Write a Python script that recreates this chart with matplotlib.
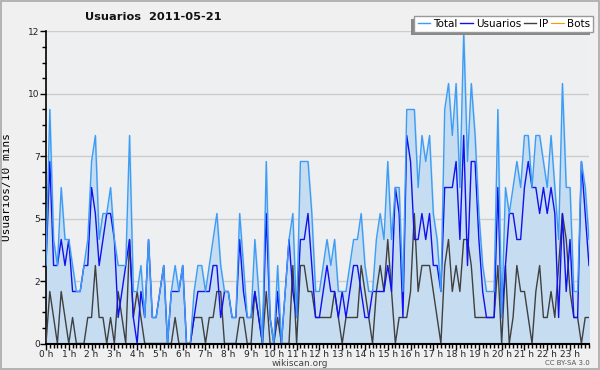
import numpy as np
import matplotlib
matplotlib.use("Agg")
import matplotlib.pyplot as plt
from matplotlib.ticker import FixedLocator, MultipleLocator

# 10-minute slots over the day (144 points)
total = [3, 9, 4, 3, 6, 4, 4, 3, 2, 2, 3, 4,
         7, 8, 4, 5, 5, 6, 4, 3, 3, 3, 8, 2,
         2, 3, 1, 4, 1, 1, 2, 3, 0, 2, 3, 2,
         3, 0, 0, 2, 3, 3, 2, 3, 4, 5, 3, 2,
         2, 1, 1, 5, 3, 1, 1, 4, 2, 0, 7, 1,
         0, 3, 0, 2, 4, 5, 1, 7, 7, 7, 5, 2,
         2, 3, 4, 3, 4, 2, 2, 2, 3, 4, 4, 5,
         3, 2, 2, 4, 5, 4, 7, 4, 6, 6, 2, 9,
         9, 9, 6, 8, 7, 8, 5, 4, 2, 9, 10, 8,
         10, 6, 12, 7, 10, 8, 5, 3, 2, 2, 2, 9,
         1, 6, 5, 6, 7, 6, 8, 8, 6, 8, 8, 7,
         6, 8, 6, 4, 10, 6, 6, 2, 2, 7, 6, 4]
usuarios = [3, 7, 3, 3, 4, 3, 4, 2, 2, 2, 3, 3,
            6, 5, 3, 4, 5, 5, 4, 1, 2, 3, 4, 1,
            0, 2, 1, 4, 1, 1, 2, 3, 0, 2, 2, 2,
            3, 0, 0, 1, 2, 2, 2, 2, 3, 3, 1, 2,
            2, 1, 1, 4, 2, 1, 1, 2, 1, 0, 5, 1,
            0, 2, 0, 2, 4, 2, 1, 4, 4, 5, 3, 1,
            1, 2, 3, 2, 2, 1, 2, 1, 2, 3, 3, 2,
            1, 1, 2, 2, 2, 2, 3, 2, 6, 5, 1, 8,
            7, 4, 4, 5, 4, 5, 3, 3, 2, 6, 6, 6,
            7, 4, 8, 3, 7, 7, 4, 2, 1, 1, 1, 6,
            1, 3, 5, 5, 4, 4, 6, 7, 6, 6, 5, 6,
            5, 6, 5, 1, 5, 2, 4, 1, 1, 7, 5, 3]
ip = [0, 2, 1, 0, 2, 1, 0, 1, 0, 0, 0, 1,
      1, 3, 1, 1, 0, 1, 0, 2, 1, 0, 4, 1,
      2, 1, 0, 0, 0, 0, 0, 0, 0, 0, 1, 0,
      0, 0, 0, 1, 1, 1, 0, 1, 1, 2, 2, 0,
      0, 0, 0, 1, 1, 0, 0, 2, 1, 0, 2, 0,
      0, 1, 0, 0, 0, 3, 0, 3, 3, 2, 2, 1,
      1, 1, 1, 1, 2, 1, 0, 1, 1, 1, 1, 3,
      2, 1, 0, 2, 3, 2, 4, 2, 0, 1, 1, 1,
      2, 5, 2, 3, 3, 3, 2, 1, 0, 3, 4, 2,
      3, 2, 4, 4, 3, 1, 1, 1, 1, 1, 1, 3,
      0, 3, 0, 1, 3, 2, 2, 1, 0, 2, 3, 1,
      1, 2, 1, 3, 5, 4, 2, 1, 1, 0, 1, 1]
bots = [0] * 144

hour_labels = [f"{h} h" for h in range(24)]
ytick_vals = [0, 2.4, 4.8, 7.2, 9.6, 12]

x = np.arange(len(total))

fig = plt.figure(figsize=(6, 3.7), dpi=100, facecolor="#f0f0f0")
ax = fig.add_axes([46 / 600, 1 - 343.5 / 370, 543 / 600, 312 / 370])
ax.set_facecolor("#eeeff1")

# frame round the whole picture
fig.patches.append(plt.Rectangle((0.001, 0.002), 0.997, 0.995, transform=fig.transFigure,
                                 fill=False, edgecolor="#a8a8a8", linewidth=1.2))

ax.fill_between(x, total, 0, color="#c6dcf0", zorder=1)
ax.plot(x, bots, color="#ff9900", linewidth=0.8, label="Bots", zorder=0.5)
ax.plot(x, ip, color="#404040", linewidth=1.0, label="IP", zorder=3)
ax.plot(x, usuarios, color="#1010f0", linewidth=1.0, label="Usuarios", zorder=4)
ax.plot(x, total, color="#3d9df5", linewidth=1.0, label="Total", zorder=5)

ax.set_xlim(0, 143)
ax.set_ylim(0, 12)

ax.yaxis.set_major_locator(FixedLocator(ytick_vals))
ax.set_yticklabels([str(int(round(v))) for v in ytick_vals])
ax.yaxis.set_minor_locator(MultipleLocator(0.6))
ax.xaxis.set_major_locator(FixedLocator(np.arange(0, 144, 6)))
ax.set_xticklabels(hour_labels)
ax.xaxis.set_minor_locator(MultipleLocator(1))

ax.tick_params(axis="both", which="major", length=4, width=1, labelsize=6.5,
               color="black", labelcolor="#222222", pad=0.5)
ax.tick_params(axis="both", which="minor", length=3, width=1, color="black")

ax.grid(axis="y", which="major", color="#cccccc", linewidth=1, zorder=0)
ax.set_axisbelow(True)

for side in ["top", "right"]:
    ax.spines[side].set_visible(False)
ax.spines["left"].set_linewidth(1.2)
ax.spines["bottom"].set_linewidth(1.5)
ax.spines["bottom"].set_zorder(6)

ax.set_ylabel("Usuarios/10 mins", family="DejaVu Sans Mono", fontsize=8, labelpad=8)
ax.yaxis.set_label_coords(-0.062, 0.5)

fig.text(85 / 600, 1 - 17 / 370, "Usuarios  2011-05-21", fontsize=8.2, fontweight="bold",
         ha="left", va="center", color="#111111")

handles, labels = ax.get_legend_handles_labels()
order = [3, 2, 1, 0]
leg = fig.legend([handles[i] for i in order], [labels[i] for i in order],
                 loc="upper right", bbox_to_anchor=(593 / 600, 1 - 16 / 370),
                 ncol=4, fontsize=7.5, frameon=True, fancybox=False, shadow=False,
                 framealpha=1, facecolor="white",
                 handlelength=1.2, handletextpad=0.3, columnspacing=0.25,
                 borderpad=0.3, borderaxespad=0)
leg.get_frame().set_edgecolor("#999999")
leg.get_frame().set_linewidth(1)
leg.set_zorder(10)

# shadow of the legend box, offset down-left
fig.canvas.draw()
bb = leg.get_window_extent().transformed(fig.transFigure.inverted())
fig.patches.append(plt.Rectangle((bb.x0 - 3 / 600, bb.y0 - 3 / 370), bb.width, bb.height,
                                 transform=fig.transFigure, facecolor="#888888",
                                 edgecolor="none", zorder=9))

fig.text(0.5, 1 - 363 / 370, "wikiscan.org", fontsize=6.5, ha="center", va="center", color="#444444")
fig.text(590 / 600, 1 - 363 / 370, "CC BY-SA 3.0", fontsize=5, ha="right", va="center", color="#555555")

fig.savefig("out.png", dpi=100, facecolor=fig.get_facecolor())
